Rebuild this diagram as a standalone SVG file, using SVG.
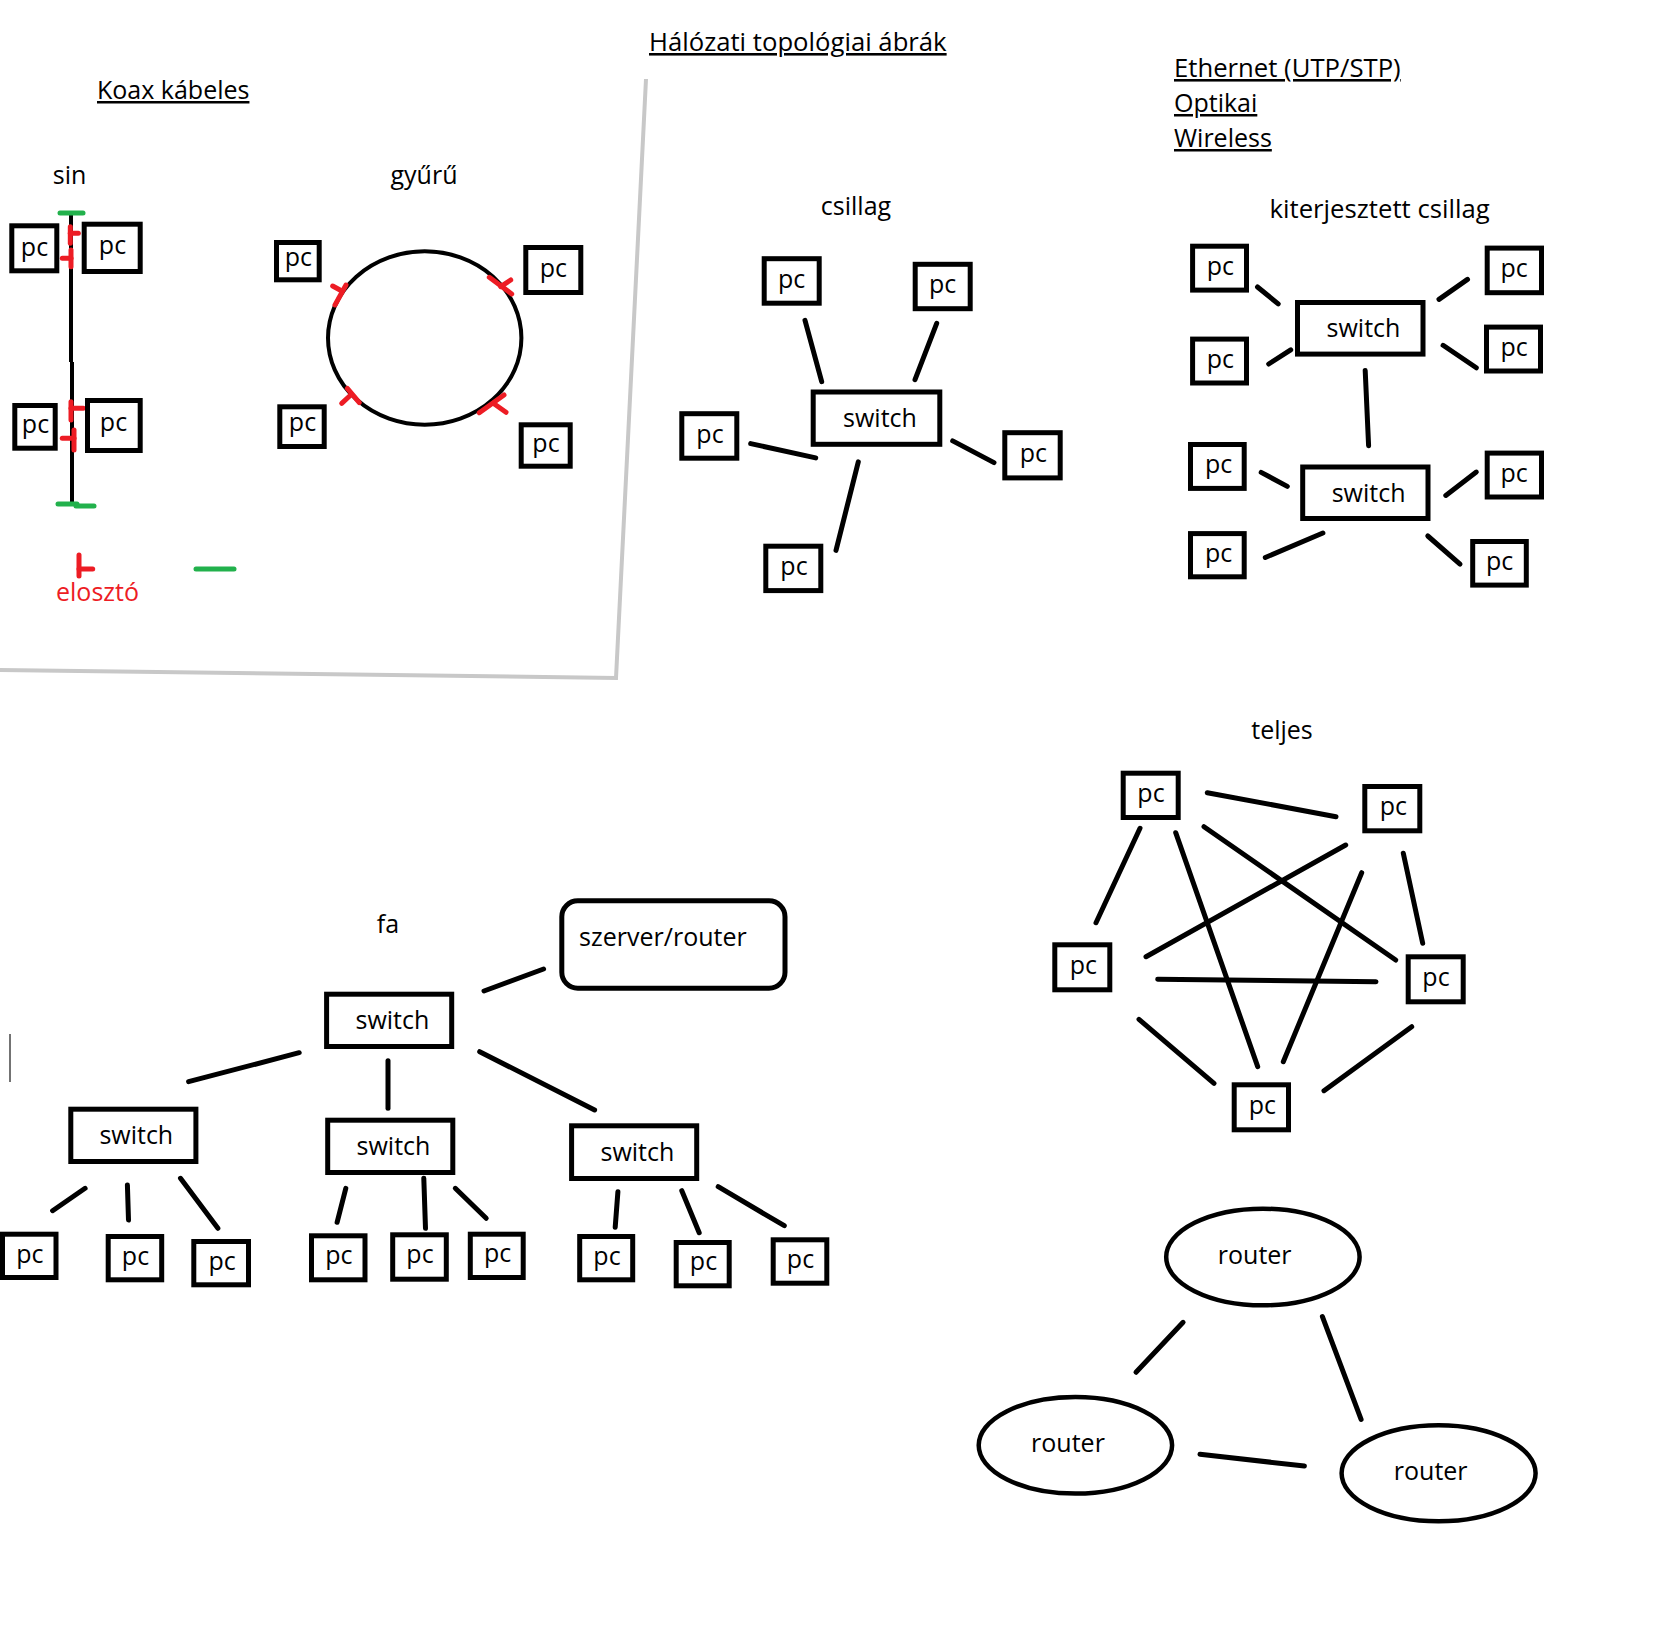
<svg xmlns="http://www.w3.org/2000/svg" width="1671" height="1635" viewBox="0 0 1671 1635">
<style>
.box{fill:#fff;stroke:#000;stroke-width:5}
.ell{fill:#fff;stroke:#000;stroke-width:4.5}
.t{font-family:"Open Sans","Noto Sans",sans-serif;font-size:25px;fill:#000}
.w{font-size:25.7px}
.c{text-anchor:middle}
.u{text-decoration:underline}
.ln{stroke:#000;stroke-width:5;stroke-linecap:round;fill:none}
.red{stroke:#ED1C24;stroke-width:5;stroke-linecap:round;fill:none}
.grn{stroke:#22B14C;stroke-width:5;stroke-linecap:round;fill:none}
</style>
<rect x="0" y="0" width="1671" height="1635" fill="#fff"/>

<g id="frame">
<polyline points="0,670 616,678 646,79" fill="none" stroke="#C8C8C8" stroke-width="4"/>
<line x1="10" y1="1034" x2="10" y2="1082" stroke="#444" stroke-width="1.5"/>
</g>

<g id="titles">
<text class="t w u" x="649" y="51">Hálózati topológiai ábrák</text>
<text class="t u" x="97" y="99">Koax kábeles</text>
<text class="t w u" x="1174" y="77">Ethernet (UTP/STP)</text>
<text class="t u" x="1174" y="112">Optikai</text>
<text class="t u" x="1174" y="147">Wireless</text>
<text class="t c" x="69.5" y="184">sin</text>
<text class="t c" x="424" y="184">gyűrű</text>
<text class="t c" x="856" y="215">csillag</text>
<text class="t w c" x="1379.6" y="218">kiterjesztett csillag</text>
<text class="t c" x="388" y="933">fa</text>
<text class="t c" x="1282" y="739">teljes</text>
<text class="t" x="56" y="601" style="fill:#ED1C24">elosztó</text>
</g>

<g id="connectors">
<!-- bus -->
<line x1="71" y1="215" x2="71" y2="362" stroke="#000" stroke-width="4"/>
<line x1="72" y1="362" x2="72" y2="505" stroke="#000" stroke-width="4"/>
<!-- ring -->
<ellipse cx="424.7" cy="338" rx="96.7" ry="86.7" fill="none" stroke="#000" stroke-width="4"/>
<!-- csillag -->
<line class="ln" x1="805" y1="320.3" x2="821.7" y2="381.6"/>
<line class="ln" x1="936.7" y1="323.4" x2="915" y2="379.6"/>
<line class="ln" x1="750.7" y1="443.6" x2="815.7" y2="457.9"/>
<line class="ln" x1="858.3" y1="461.8" x2="836" y2="550.4"/>
<line class="ln" x1="952.7" y1="440.9" x2="994" y2="462.6"/>
<!-- kiterjesztett csillag -->
<line class="ln" x1="1257.5" y1="287" x2="1278.2" y2="303.9"/>
<line class="ln" x1="1268.7" y1="364" x2="1290.7" y2="349.8"/>
<line class="ln" x1="1439" y1="299.4" x2="1467.5" y2="279.4"/>
<line class="ln" x1="1443.1" y1="345.3" x2="1476.3" y2="367.8"/>
<line class="ln" x1="1365.2" y1="370.5" x2="1368.6" y2="445.7"/>
<line class="ln" x1="1261.2" y1="472.4" x2="1287.3" y2="486.4"/>
<line class="ln" x1="1265.3" y1="557.5" x2="1322.9" y2="533"/>
<line class="ln" x1="1445.8" y1="495.4" x2="1476.3" y2="472.1"/>
<line class="ln" x1="1427.8" y1="536" x2="1460" y2="564.2"/>
<!-- fa -->
<line class="ln" x1="484" y1="991" x2="543.6" y2="969"/>
<line class="ln" x1="188.6" y1="1081.7" x2="299.2" y2="1052.7"/>
<line class="ln" x1="388" y1="1060.7" x2="388" y2="1108.3"/>
<line class="ln" x1="479.7" y1="1051.7" x2="594.6" y2="1110"/>
<line class="ln" x1="52.6" y1="1210.7" x2="85.1" y2="1188.3"/>
<line class="ln" x1="127.4" y1="1185" x2="128.5" y2="1220"/>
<line class="ln" x1="180.5" y1="1178.3" x2="217.9" y2="1228.3"/>
<line class="ln" x1="345.8" y1="1188.3" x2="337.1" y2="1222.3"/>
<line class="ln" x1="423.8" y1="1178.3" x2="425.5" y2="1228.3"/>
<line class="ln" x1="455.3" y1="1188.3" x2="486.2" y2="1218.3"/>
<line class="ln" x1="617.9" y1="1191.7" x2="615.2" y2="1227.3"/>
<line class="ln" x1="681.8" y1="1190.7" x2="699.2" y2="1232.7"/>
<line class="ln" x1="718.2" y1="1186.7" x2="784.3" y2="1225.7"/>
<!-- teljes -->
<line class="ln" x1="1207.3" y1="792.7" x2="1336" y2="816.7"/>
<line class="ln" x1="1140" y1="828.3" x2="1096" y2="922.7"/>
<line class="ln" x1="1175.7" y1="832.7" x2="1257.7" y2="1066.7"/>
<line class="ln" x1="1204" y1="826.7" x2="1395.7" y2="960"/>
<line class="ln" x1="1345.7" y1="845" x2="1146" y2="956.7"/>
<line class="ln" x1="1361.7" y1="872.7" x2="1283.3" y2="1061.7"/>
<line class="ln" x1="1403.3" y1="853.3" x2="1422.7" y2="943.3"/>
<line class="ln" x1="1157.7" y1="979.3" x2="1376" y2="981.7"/>
<line class="ln" x1="1139" y1="1019.3" x2="1214" y2="1083.3"/>
<line class="ln" x1="1411.7" y1="1026.7" x2="1324" y2="1090.7"/>
<!-- routers -->
<line class="ln" x1="1183.1" y1="1322.3" x2="1136" y2="1372.3"/>
<line class="ln" x1="1322.4" y1="1316.7" x2="1361.1" y2="1419.3"/>
<line class="ln" x1="1200" y1="1454.3" x2="1304.4" y2="1466"/>
</g>

<g id="terminators">
<line class="grn" x1="60" y1="213" x2="83" y2="213"/>
<line class="grn" x1="58" y1="504" x2="77" y2="504"/>
<line class="grn" x1="76" y1="506" x2="94" y2="506"/>
<line class="grn" x1="196" y1="569" x2="234" y2="569"/>
</g>

<g id="splitters">
<line class="red" x1="70.3" y1="226.7" x2="70.3" y2="243.3"/>
<line class="red" x1="70.3" y1="233.3" x2="78.3" y2="233.3" stroke-width="4"/>
<line class="red" x1="71" y1="250" x2="71" y2="266.7"/>
<line class="red" x1="62.3" y1="258.3" x2="71" y2="258.3" stroke-width="4"/>
<line class="red" x1="71" y1="401.7" x2="71" y2="420"/>
<line class="red" x1="71" y1="408.3" x2="83.3" y2="408.3" stroke-width="4"/>
<line class="red" x1="74" y1="430" x2="74" y2="450"/>
<line class="red" x1="62.3" y1="438.3" x2="74" y2="438.3" stroke-width="4"/>
<line class="red" x1="335" y1="305" x2="346" y2="285"/>
<line class="red" x1="340" y1="290" x2="332.7" y2="286" stroke-width="4"/>
<line class="red" x1="489.3" y1="277.3" x2="511.7" y2="294"/>
<line class="red" x1="500.7" y1="286.7" x2="510.7" y2="280" stroke-width="4"/>
<line class="red" x1="347.3" y1="388.3" x2="359.3" y2="402.7"/>
<line class="red" x1="350.7" y1="395" x2="341.7" y2="403.3" stroke-width="4"/>
<line class="red" x1="479.3" y1="412.7" x2="504" y2="395"/>
<line class="red" x1="493.3" y1="403.3" x2="506" y2="412.3" stroke-width="4"/>
<line class="red" x1="79" y1="555" x2="79" y2="576"/>
<line class="red" x1="79" y1="569" x2="92.7" y2="569" stroke-width="4"/>
</g>

<!-- sin pcs -->
<g id="sin-pc1"><rect class="box" x="11.8" y="225.8" width="45" height="45" stroke-width="4.5"/><text class="t c" x="34.5" y="256">pc</text></g>
<g id="sin-pc2"><rect class="box" x="84.2" y="224.2" width="56" height="47.3" stroke-width="4.5"/><text class="t c" x="112.5" y="254">pc</text></g>
<g id="sin-pc3"><rect class="box" x="14.8" y="405.5" width="40.4" height="42.7" stroke-width="4.5"/><text class="t c" x="35.5" y="433">pc</text></g>
<g id="sin-pc4"><rect class="box" x="87.5" y="400.5" width="52.7" height="50" stroke-width="4.5"/><text class="t c" x="113.5" y="431">pc</text></g>

<!-- ring pcs -->
<g id="ring-pc1"><rect class="box" x="276.5" y="242.5" width="42.7" height="37.3" stroke-width="4.5"/><text class="t c" x="298.3" y="266">pc</text></g>
<g id="ring-pc2"><rect class="box" x="525.8" y="247.5" width="55" height="45" stroke-width="4.5"/><text class="t c" x="553.3" y="276.5">pc</text></g>
<g id="ring-pc3"><rect class="box" x="279.8" y="406.8" width="44.4" height="39.7" stroke-width="4.5"/><text class="t c" x="302.5" y="431">pc</text></g>
<g id="ring-pc4"><rect class="box" x="521.2" y="424.8" width="49" height="41.4" stroke-width="4.5"/><text class="t c" x="546" y="451.5">pc</text></g>

<!-- csillag -->
<g id="cs-pc1"><rect class="box" x="764.2" y="258.7" width="55" height="44.5"/><text class="t c" x="791.7" y="287.5">pc</text></g>
<g id="cs-pc2"><rect class="box" x="915.2" y="264.3" width="55" height="44.4"/><text class="t c" x="942.7" y="292.5">pc</text></g>
<g id="cs-switch"><rect class="box" x="813.2" y="392" width="126.6" height="52.3"/><text class="t c" x="880" y="427">switch</text></g>
<g id="cs-pc3"><rect class="box" x="681.8" y="413.7" width="55" height="44.5"/><text class="t c" x="710" y="442.5">pc</text></g>
<g id="cs-pc4"><rect class="box" x="1004.8" y="432.7" width="55.4" height="45.2"/><text class="t c" x="1033.3" y="461.5">pc</text></g>
<g id="cs-pc5"><rect class="box" x="765.8" y="546.2" width="55" height="44.4"/><text class="t c" x="794" y="575">pc</text></g>

<!-- kiterjesztett csillag -->
<g id="kc-pc1"><rect class="box" x="1192.6" y="246.2" width="53.9" height="43.9"/><text class="t c" x="1220.3" y="274.5">pc</text></g>
<g id="kc-pc2"><rect class="box" x="1487.2" y="248.1" width="54.3" height="44.6"/><text class="t c" x="1514.2" y="277">pc</text></g>
<g id="kc-pc3"><rect class="box" x="1192.6" y="339.1" width="53.9" height="43.9"/><text class="t c" x="1220.3" y="367.5">pc</text></g>
<g id="kc-pc4"><rect class="box" x="1486.5" y="327.1" width="54" height="43.9"/><text class="t c" x="1514.2" y="355.5">pc</text></g>
<g id="kc-switch1"><rect class="box" x="1297.5" y="302.5" width="125.5" height="51.6"/><text class="t c" x="1363.5" y="337">switch</text></g>
<g id="kc-switch2"><rect class="box" x="1302.7" y="467" width="125.3" height="51.5"/><text class="t c" x="1368.6" y="501.5">switch</text></g>
<g id="kc-pc5"><rect class="box" x="1190.5" y="444.5" width="53.7" height="43.9"/><text class="t c" x="1218.6" y="473">pc</text></g>
<g id="kc-pc6"><rect class="box" x="1190.5" y="533.6" width="53.7" height="43.2"/><text class="t c" x="1218.6" y="562">pc</text></g>
<g id="kc-pc7"><rect class="box" x="1487.2" y="453.1" width="54.3" height="43.9"/><text class="t c" x="1514.2" y="481.5">pc</text></g>
<g id="kc-pc8"><rect class="box" x="1472.7" y="541.5" width="53.6" height="43.6"/><text class="t c" x="1499.6" y="570">pc</text></g>

<!-- fa -->
<g id="fa-server"><rect class="box" x="561.8" y="900.8" width="223.2" height="87.4" rx="16" ry="16"/><text class="t c" x="662.9" y="946">szerver/router</text></g>
<g id="fa-switch0"><rect class="box" x="326.6" y="994.2" width="125.1" height="52.3"/><text class="t c" x="392.4" y="1029">switch</text></g>
<g id="fa-switch1"><rect class="box" x="70.8" y="1109.2" width="125.1" height="52.3"/><text class="t c" x="136.3" y="1144">switch</text></g>
<g id="fa-switch2"><rect class="box" x="327.7" y="1120.2" width="125.1" height="52.3"/><text class="t c" x="393.5" y="1155">switch</text></g>
<g id="fa-switch3"><rect class="box" x="571.6" y="1125.8" width="125.1" height="52.7"/><text class="t c" x="637.4" y="1161">switch</text></g>
<g id="fa-pc1"><rect class="box" x="2.5" y="1234.2" width="53.5" height="43.3"/><text class="t c" x="29.8" y="1262.5">pc</text></g>
<g id="fa-pc2"><rect class="box" x="108.2" y="1236.5" width="53.5" height="43.3"/><text class="t c" x="135.5" y="1264.5">pc</text></g>
<g id="fa-pc3"><rect class="box" x="193.8" y="1241.5" width="54.7" height="43.3"/><text class="t c" x="222.2" y="1269.5">pc</text></g>
<g id="fa-pc4"><rect class="box" x="311.5" y="1235.8" width="53.5" height="44"/><text class="t c" x="338.8" y="1264">pc</text></g>
<g id="fa-pc5"><rect class="box" x="392.7" y="1234.8" width="53.6" height="44.4"/><text class="t c" x="420" y="1263">pc</text></g>
<g id="fa-pc6"><rect class="box" x="470.3" y="1234.2" width="52.9" height="43.3"/><text class="t c" x="497.6" y="1262">pc</text></g>
<g id="fa-pc7"><rect class="box" x="579.7" y="1236.5" width="53" height="43.3"/><text class="t c" x="607" y="1264.5">pc</text></g>
<g id="fa-pc8"><rect class="box" x="676.2" y="1242.5" width="53" height="43.3"/><text class="t c" x="703.5" y="1270">pc</text></g>
<g id="fa-pc9"><rect class="box" x="773.2" y="1239.8" width="53.6" height="43.4"/><text class="t c" x="800.5" y="1267.5">pc</text></g>

<!-- teljes -->
<g id="tj-pc1"><rect class="box" x="1123.2" y="773.2" width="55" height="44.3"/><text class="t c" x="1151" y="802">pc</text></g>
<g id="tj-pc2"><rect class="box" x="1364.8" y="786.5" width="55" height="44.3"/><text class="t c" x="1393.3" y="815">pc</text></g>
<g id="tj-pc3"><rect class="box" x="1054.8" y="944.8" width="55" height="45"/><text class="t c" x="1083.3" y="973.5">pc</text></g>
<g id="tj-pc4"><rect class="box" x="1408.2" y="956.8" width="55" height="45"/><text class="t c" x="1436" y="986">pc</text></g>
<g id="tj-pc5"><rect class="box" x="1234.2" y="1084.8" width="54.3" height="45"/><text class="t c" x="1262.3" y="1113.5">pc</text></g>

<!-- routers -->
<g id="router1"><ellipse class="ell" cx="1262.9" cy="1257" rx="96.7" ry="48.3"/><text class="t c" x="1254.7" y="1263.5">router</text></g>
<g id="router2"><ellipse class="ell" cx="1075.4" cy="1445.3" rx="96.7" ry="48.3"/><text class="t c" x="1068" y="1452">router</text></g>
<g id="router3"><ellipse class="ell" cx="1438.6" cy="1473.3" rx="97" ry="48"/><text class="t c" x="1430.7" y="1479.5">router</text></g>
</svg>
